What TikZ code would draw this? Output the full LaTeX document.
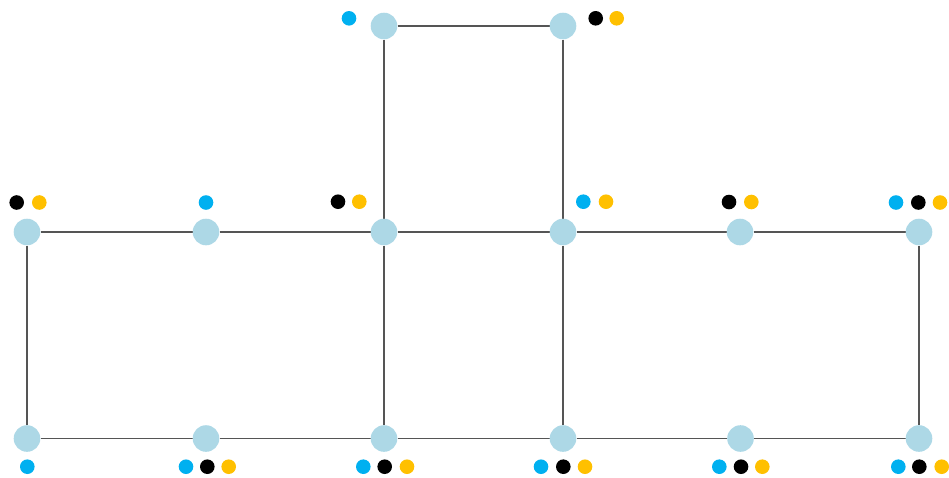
\documentclass[tikz,border=0pt]{standalone}
\usetikzlibrary{backgrounds}
\definecolor{vtx}{HTML}{ADD8E6}
\definecolor{cblue}{HTML}{00B0F0}
\definecolor{cgold}{HTML}{FFC000}
\definecolor{edgec}{HTML}{555555}
\tikzset{
  vert/.style={circle,fill=vtx,draw=none,minimum size=26.6pt,inner sep=0pt},
  dotb/.style={circle,fill=cblue,draw=none,minimum size=14.6pt,inner sep=0pt},
  dotk/.style={circle,fill=black,draw=none,minimum size=14.6pt,inner sep=0pt},
  doty/.style={circle,fill=cgold,draw=none,minimum size=14.6pt,inner sep=0pt},
  edge/.style={draw=edgec,line width=1.4pt}
}
\begin{document}
\begin{tikzpicture}[x=1pt,y=-1pt]
\useasboundingbox (0,0) rectangle (949,477);
% vertices
\node[vert] (t1) at (384,26) {};
\node[vert] (t2) at (563,26) {};
\node[vert] (m1) at (27,232) {};
\node[vert] (m2) at (206,232) {};
\node[vert] (m3) at (384,232) {};
\node[vert] (m4) at (563,232) {};
\node[vert] (m5) at (740,232) {};
\node[vert] (m6) at (919,232) {};
\node[vert] (b1) at (27,438.5) {};
\node[vert] (b2) at (206,438.5) {};
\node[vert] (b3) at (384,438.5) {};
\node[vert] (b4) at (563,438.5) {};
\node[vert] (b5) at (740.5,438.5) {};
\node[vert] (b6) at (919,438.5) {};
% edges
\begin{scope}[on background layer]
\draw[edge] (t1) -- (t2);
\draw[edge] (t1) -- (m3);
\draw[edge] (t2) -- (m4);
\draw[edge] (m1) -- (m2);
\draw[edge] (m2) -- (m3);
\draw[edge] (m3) -- (m4);
\draw[edge] (m4) -- (m5);
\draw[edge] (m5) -- (m6);
\draw[edge] (b1) -- (b2);
\draw[edge] (b2) -- (b3);
\draw[edge] (b3) -- (b4);
\draw[edge] (b4) -- (b5);
\draw[edge] (b5) -- (b6);
\draw[edge] (m1) -- (b1);
\draw[edge] (m3) -- (b3);
\draw[edge] (m4) -- (b4);
\draw[edge] (m6) -- (b6);
\end{scope}
% markers top
\node[dotb] (t1b) at (349,18.3) {};
\node[dotk] (t2k) at (595.7,18.3) {};
\node[doty] (t2y) at (616.7,18.3) {};
% markers middle
\node[dotk] (m1k) at (16.7,202.5) {};
\node[doty] (m1y) at (39.3,202.5) {};
\node[dotb] (m2b) at (206,202.5) {};
\node[dotk] (m3k) at (338,201.7) {};
\node[doty] (m3y) at (359.3,201.7) {};
\node[dotb] (m4b) at (583.3,201.7) {};
\node[doty] (m4y) at (606,201.7) {};
\node[dotk] (m5k) at (729,202) {};
\node[doty] (m5y) at (751.3,202) {};
\node[dotb] (m6b) at (896,202.5) {};
\node[dotk] (m6k) at (918.3,202.5) {};
\node[doty] (m6y) at (940,202.5) {};
% markers bottom
\node[dotb] (b1b) at (27.3,466.7) {};
\node[dotb] (b2b) at (186,466.7) {};
\node[dotk] (b2k) at (207.3,466.7) {};
\node[doty] (b2y) at (228.7,466.7) {};
\node[dotb] (b3b) at (363.3,466.7) {};
\node[dotk] (b3k) at (384.7,466.7) {};
\node[doty] (b3y) at (407,466.7) {};
\node[dotb] (b4b) at (541,466.7) {};
\node[dotk] (b4k) at (563.3,466.7) {};
\node[doty] (b4y) at (585,466.7) {};
\node[dotb] (b5b) at (719.3,466.7) {};
\node[dotk] (b5k) at (741,466.7) {};
\node[doty] (b5y) at (762.3,466.7) {};
\node[dotb] (b6b) at (898.3,466.7) {};
\node[dotk] (b6k) at (919.3,466.7) {};
\node[doty] (b6y) at (941.7,466.7) {};
\end{tikzpicture}
\end{document}
